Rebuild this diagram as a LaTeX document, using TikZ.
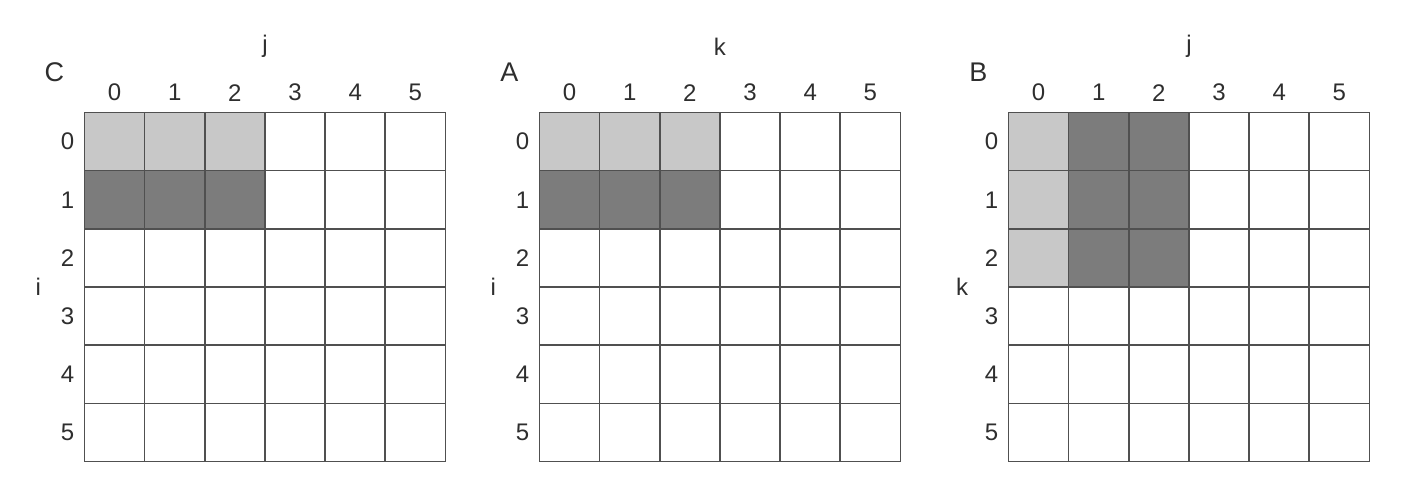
\documentclass[tikz,border=0pt]{standalone}
\usepackage{fontspec}
\setsansfont{Liberation Sans}
\definecolor{lightCell}{HTML}{C8C8C8}
\definecolor{darkCell}{HTML}{7C7C7C}
\definecolor{gridGray}{HTML}{505050}
\definecolor{labelGray}{HTML}{2E2E2E}
\tikzset{
  font=\sffamily,
  gridline/.style={draw=gridGray, line width=1.6pt, line cap=rect},
  lightBlock/.style={fill=lightCell},
  darkBlock/.style={fill=darkCell},
  indexLabel/.style={font=\sffamily\fontsize{24}{28}\selectfont, text=labelGray, inner sep=0pt},
  matLabel/.style={font=\sffamily\fontsize{27}{31}\selectfont, text=labelGray, inner sep=0pt}
}
% #1 prefix, #2 left edge, #3 matrix letter, #4 column index, #5 row index, #6 shaded blocks
\newcommand{\matGrid}[6]{%
  \begin{scope}[shift={(#2,369.5)}, x=60.15pt, y=-58.17pt]
    #6
    \foreach \k in {0,...,6} {
      \draw[gridline] (\k,0) -- (\k,6);
      \draw[gridline] (0,\k) -- (6,\k);
    }
    \node[matLabel] (#1name) at (-0.5,-0.7) {#3};
    \node[indexLabel] (#1col) at (3,-1.13) {#4};
    \node[indexLabel] (#1row) at (-0.77,3) {#5};
    \foreach \k in {0,...,5} {
      \node[indexLabel] (#1c\k) at (\k+0.5,-0.34) {\k};
      \node[indexLabel] (#1r\k) at (-0.28,\k+0.5) {\k};
    }
  \end{scope}
}

\begin{document}
\begin{tikzpicture}[x=1pt,y=1pt]
\useasboundingbox (0,0) rectangle (1426,482);

% C = A B
\matGrid{C}{84.5}{C}{j}{i}{%
  \fill[lightBlock] (0,0) rectangle (3,1);
  \fill[darkBlock] (0,1) rectangle (3,2);
}
\matGrid{A}{539.5}{A}{k}{i}{%
  \fill[lightBlock] (0,0) rectangle (3,1);
  \fill[darkBlock] (0,1) rectangle (3,2);
}
\matGrid{B}{1008.5}{B}{j}{k}{%
  \fill[lightBlock] (0,0) rectangle (1,3);
  \fill[darkBlock] (1,0) rectangle (3,3);
}

\end{tikzpicture}
\end{document}
